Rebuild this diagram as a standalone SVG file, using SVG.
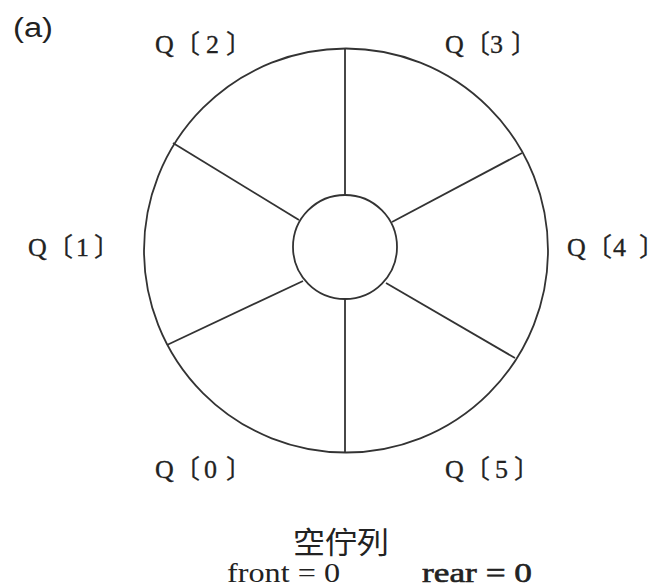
<svg xmlns="http://www.w3.org/2000/svg" width="656" height="587" viewBox="0 0 656 587">
<style>
.ln{fill:none;stroke:#333;stroke-width:1.8}
.q{font-family:"Liberation Serif","Noto Sans CJK TC",serif;font-size:26px;fill:#222;stroke:#222;stroke-width:0.3}
.h{font-feature-settings:"halt"}
.t{font-family:"Liberation Serif",serif;font-size:28px;fill:#222}
.cjk{font-family:"Noto Sans CJK TC",sans-serif;font-size:30px;fill:#222}
.lab{font-family:"Liberation Sans",sans-serif;font-size:27px;fill:#222}
</style>
<rect width="656" height="587" fill="#fff"/>
<g id="ring">
<circle class="ln" cx="346" cy="250.5" r="202"/>
<circle class="ln" cx="345" cy="247" r="52"/>
</g>
<g id="connectors">
<line class="ln" x1="345" y1="48.5" x2="345" y2="195"/>
<line class="ln" x1="345" y1="299" x2="345" y2="452.5"/>
<line class="ln" x1="173" y1="143" x2="299" y2="220"/>
<line class="ln" x1="522" y1="153" x2="392" y2="222"/>
<line class="ln" x1="515" y1="358" x2="386" y2="283"/>
<line class="ln" x1="167" y1="345" x2="303" y2="281"/>
</g>
<g id="label-a"><text class="lab" x="13" y="37" textLength="40" lengthAdjust="spacingAndGlyphs">(a)</text></g>
<g id="q0"><text class="q" x="155 174 204" y="478">Q〔0<tspan class="h" x="226">〕</tspan></text></g>
<g id="q1"><text class="q" x="28 47 76" y="256">Q〔1<tspan class="h" x="94">〕</tspan></text></g>
<g id="q2"><text class="q" x="155 174 206" y="53">Q〔2<tspan class="h" x="226">〕</tspan></text></g>
<g id="q3"><text class="q" x="445 464 490" y="53">Q〔3<tspan class="h" x="511">〕</tspan></text></g>
<g id="q4"><text class="q" x="567 586 613" y="256">Q〔4<tspan class="h" x="639">〕</tspan></text></g>
<g id="q5"><text class="q" x="445 464 495" y="478">Q〔5<tspan class="h" x="514">〕</tspan></text></g>
<g id="caption">
<text class="cjk" x="293" y="553" textLength="96" lengthAdjust="spacingAndGlyphs">空佇列</text>
<text class="t" x="227" y="582" textLength="113" lengthAdjust="spacingAndGlyphs">front = 0</text>
<text class="t" x="422" y="582" stroke="#222" stroke-width="0.6" textLength="110" lengthAdjust="spacingAndGlyphs">rear = 0</text>
</g>
</svg>
